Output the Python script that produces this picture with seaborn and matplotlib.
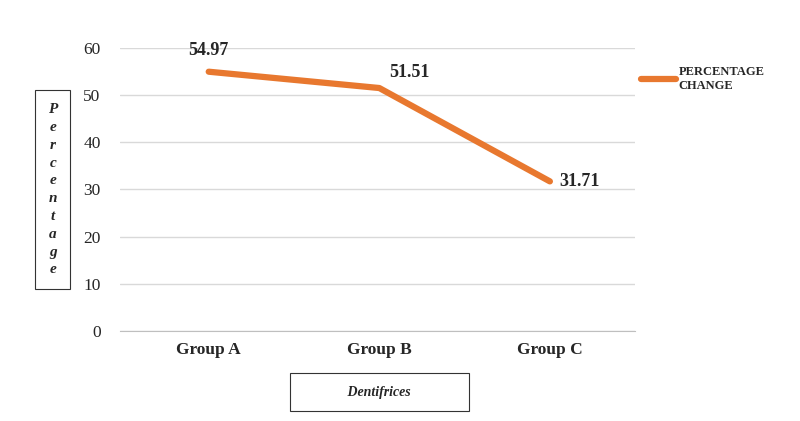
import numpy as np
import pandas as pd
import matplotlib.pyplot as plt
import seaborn as sns

groups = ['Group A', 'Group B', 'Group C']
pct_change = [54.97, 51.51, 31.71]
series_name = 'PERCENTAGE\nCHANGE'

sns.set_style('white')
plt.rcParams['font.family'] = ['Liberation Serif', 'DejaVu Serif']

df = pd.DataFrame({'group': groups, 'value': pct_change})
df['x'] = np.arange(len(groups))

fig = plt.figure(figsize=(8, 4.21), dpi=100)
ax = fig.add_axes([0.15, 0.214, 0.644, 0.672])

orange = '#E8782F'
sns.lineplot(data=df, x='x', y='value', ax=ax, color=orange, linewidth=4.5,
             solid_capstyle='round', label=series_name, legend=False)

ax.set_ylim(0, 60)
ax.set_yticks(range(0, 61, 10))
ax.set_xlim(-0.52, 2.5)
ax.set_xticks(df['x'])
ax.set_xticklabels(groups, fontsize=12.5, fontweight='bold')
ax.tick_params(axis='y', labelsize=12.5, length=0, pad=14)
ax.tick_params(axis='x', length=0, pad=8)
ax.grid(axis='y', color='#d9d9d9', linewidth=1)
for s in ['left', 'right', 'top']:
    ax.spines[s].set_visible(False)
ax.spines['bottom'].set_color('#bfbfbf')
ax.set_xlabel('')
ax.set_ylabel('')

# data labels
offsets = [(0, 9, 'center', 'bottom'), (22, 5, 'center', 'bottom'), (7, 0, 'left', 'center')]
for xv, yv, (dx, dy, ha, va) in zip(df['x'], df['value'], offsets):
    ax.annotate(f'{yv:.2f}', (xv, yv), xytext=(dx, dy), textcoords='offset points',
                ha=ha, va=va, fontsize=13, fontweight='bold')

# boxed axis titles
fig.text(0.066, 0.549, '\n'.join('Percentage'), ha='center', va='center',
         fontsize=11, fontweight='bold', style='italic', linespacing=1.48,
         bbox=dict(boxstyle='square,pad=0.85', fc='white', ec='#333333', lw=0.8))
fig.text(0.474, 0.068, '             Dentifrices             ', ha='center', va='center',
         fontsize=10, fontweight='bold', style='italic',
         bbox=dict(boxstyle='square,pad=0.9', fc='white', ec='#333333', lw=0.8))

leg = ax.legend(loc='upper left', bbox_to_anchor=(0.99, 0.975), frameon=False,
                handlelength=2.8, handletextpad=0.2,
                prop={'size': 9, 'weight': 'bold'})

fig.savefig('out.png', dpi=100)
